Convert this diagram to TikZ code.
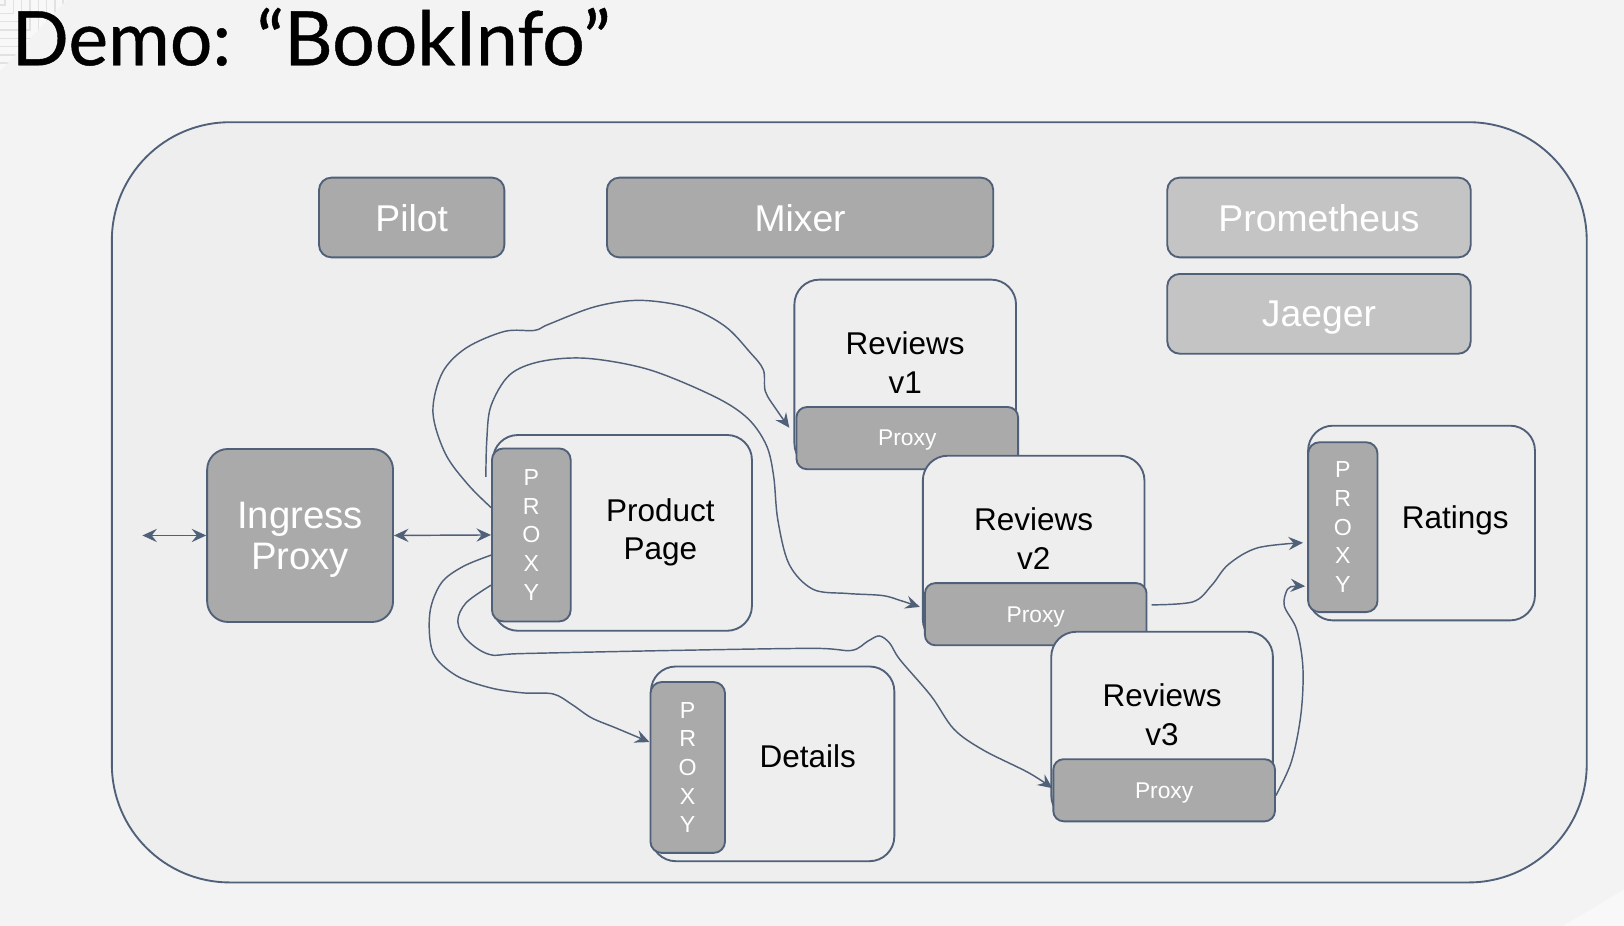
\documentclass[tikz,border=0pt]{standalone}
\usepackage{fontspec}
\setmainfont{Liberation Sans}
\newfontfamily\titlefont[FakeBold=0.6]{Lato}
\usetikzlibrary{arrows.meta}
\definecolor{bgc}{HTML}{F3F3F3}
\definecolor{cont}{HTML}{EEEEEE}
\definecolor{edge}{HTML}{4F6078}
\definecolor{darkfill}{HTML}{AAAAAA}
\definecolor{lightfill}{HTML}{C4C4C4}
\definecolor{deco}{HTML}{E2E2E2}
\begin{document}
\begin{tikzpicture}[x=0.5pt,y=-0.5pt,
  box/.style={draw=edge, line width=0.9pt, rounded corners=6pt, inner sep=0pt},
  darkbox/.style={box, fill=darkfill, text=white, text depth=0pt, font=\fontsize{18}{20}\selectfont},
  lightbox/.style={box, fill=lightfill, text=white, text depth=0pt, font=\fontsize{18}{20}\selectfont},
  svc/.style={draw=edge, line width=0.9pt, fill=cont, rounded corners=12pt, inner sep=0pt},
  vproxy/.style={box, fill=darkfill, text=white, rounded corners=5.5pt, align=center, font=\fontsize{11.2}{13.8}\selectfont},
  hproxy/.style={box, fill=darkfill, text=white, text depth=0pt, rounded corners=5pt, font=\fontsize{11}{13}\selectfont},
  lbl/.style={align=center, inner sep=0pt, font=\fontsize{15.2}{18.5}\selectfont},
  conn/.style={draw=edge, line width=0.7pt, -{Stealth[length=7pt,width=6.4pt,inset=2.5pt]}},
  conn2/.style={draw=edge, line width=0.7pt, {Stealth[length=7pt,width=6.4pt,inset=2.5pt]}-{Stealth[length=7pt,width=6.4pt,inset=2.5pt]}},
]
\useasboundingbox (0,0) rectangle (1568,894);
\fill[bgc] (0,0) rectangle (1568,894);
% faint corner decorations
\begin{scope}
  \clip (0,0) -- (64,0) -- (0,69) -- cycle;
  \fill[white!40!bgc] (0,0) -- (64,0) -- (0,69) -- cycle;
  \foreach \k in {5,13,...,69} {
    \draw[deco, line width=0.7pt] (0,\k) -| (\k,0);
  }
\end{scope}
\fill[white!45!bgc] (1568,859) -- (1568,894) -- (1509,894) -- cycle;

% title
\node[anchor=base west, inner sep=0pt] (title) at (11,63)
  {\resizebox{289pt}{!}{\titlefont\fontsize{36}{40}\selectfont Demo: “BookInfo”}};

% cluster
\node[draw=edge, fill=cont, line width=0.9pt, rounded corners=57pt,
      minimum width=712pt, minimum height=367pt, inner sep=0pt] (cluster) at (820,485) {};

% control plane
\node[darkbox, minimum width=89.5pt, minimum height=38.5pt] (pilot) at (397.5,210) {Pilot};
\node[darkbox, minimum width=186.5pt, minimum height=38.5pt] (mixer) at (772.5,210) {Mixer};
\node[lightbox, minimum width=146.5pt, minimum height=38.5pt] (prom) at (1273.5,210) {Prometheus};
\node[lightbox, minimum width=146.5pt, minimum height=38.5pt] (jaeger) at (1273.5,303) {Jaeger};

% ingress
\node[box, fill=darkfill, rounded corners=10pt, minimum width=89.75pt, minimum height=83.5pt] (ingress) at (289.75,517) {};
\node[align=center, inner sep=0pt, text=white, font=\fontsize{18.5}{19.8}\selectfont] (inglbl) at (289.7,521) {Ingress\\Proxy};

% product page
\node[svc, minimum width=125pt, minimum height=94.5pt] (product) at (601,514.5) {};
\node[vproxy, minimum width=38pt, minimum height=83.5pt] (ppx) at (513,516.5) {P\\R\\O\\X\\Y};
\node[lbl] (plbl) at (637.5,514) {Product\\Page};

% reviews v1
\node[svc, minimum width=107pt, minimum height=91pt] (r1) at (874,361) {};
\node[lbl] (r1lbl) at (874,350) {Reviews\\v1};
\node[hproxy, minimum width=107pt, minimum height=30pt] (r1p) at (876,423) {Proxy};
% reviews v2
\node[svc, minimum width=107pt, minimum height=91pt] (r2) at (998,531) {};
\node[lbl] (r2lbl) at (998,520) {Reviews\\v2};
\node[hproxy, minimum width=107pt, minimum height=30pt] (r2p) at (1000,593) {Proxy};
% reviews v3
\node[svc, minimum width=107pt, minimum height=91pt] (r3) at (1122,701) {};
\node[lbl] (r3lbl) at (1122,690) {Reviews\\v3};
\node[hproxy, minimum width=107pt, minimum height=30pt] (r3p) at (1124,763) {Proxy};

% details
\node[svc, minimum width=117.5pt, minimum height=94pt] (details) at (746,737.5) {};
\node[vproxy, minimum width=36pt, minimum height=82.5pt] (dpx) at (664,741) {P\\R\\O\\X\\Y};
\node[lbl] (dlbl) at (780,730.5) {Details};

% ratings
\node[svc, minimum width=109.5pt, minimum height=94pt] (ratings) at (1372.5,505) {};
\node[vproxy, minimum width=33.5pt, minimum height=82pt] (rpx) at (1296.5,509) {P\\R\\O\\X\\Y};
\node[lbl] (rlbl) at (1405,502) {Ratings};

% connectors
\coordinate (outside) at (137.5,517);
\draw[conn2] (outside) -- (ingress.west);
\draw[conn2] (ingress.east) -- (ppx.west);

% product -> reviews v1
\draw[conn] plot[smooth, tension=0.55] coordinates {([yshift=13.25pt]ppx.west)
  (452,468) (430,438) (418,398) (427,360) (450,336) (487,320) (516,319) (530,313)
  (575,296) (618,290) (665,297) (700,315) (724,340) (737,357) (739,378) (750,396)
  ([xshift=-3pt,yshift=5pt]r1p.west)};

% product -> reviews v2
\draw[conn] plot[smooth, tension=0.55] coordinates {([xshift=-2.5pt,yshift=28pt]ppx.west)
  (470,425) (474,392) (492,362) (522,349) (567,346) (627,357) (690,383) (722,404)
  (740,430) (747,460) (751,502) (762,545) (785,569) (818,573) (852,575) (870,580)
  ([xshift=-2pt,yshift=3.5pt]r2p.west)};

% product -> details
\draw[conn] plot[smooth, tension=0.55] coordinates {([yshift=-9.75pt]ppx.west)
  (447,547) (426,563) (415,592) (418,630) (440,652) (473,664) (505,669) (534,670)
  (552,680) (571,693) (595,703) ([yshift=12.25pt]dpx.west)};

% product -> reviews v3
\draw[conn] plot[smooth, tension=0.55] coordinates {([yshift=-24.25pt]ppx.west)
  (450,582) (442,600) (451,618) (473,632) (505,631) (650,628) (785,626) (822,628)
  (838,619) (849,614) (859,621) (869,637) (899,672) (921,704) (949,724) (993,746)
  ([yshift=1pt]r3p.west)};

% reviews v2 -> ratings
\draw[conn] plot[smooth, tension=0.55] coordinates {([xshift=2pt,yshift=4.5pt]r2p.east)
  (1152,581) (1170,565) (1186,545) (1214,529) ([xshift=-2pt,yshift=-7.5pt]rpx.west)};

% reviews v3 -> ratings
\draw[conn] plot[smooth, tension=0.55] coordinates {([yshift=-2.5pt]r3p.east)
  (1247,735) (1256,690) (1258,645) (1252,608) (1240,585) (1243,569) (1250,566)
  ([xshift=-1pt,yshift=-28.5pt]rpx.west)};
\end{tikzpicture}
\end{document}
